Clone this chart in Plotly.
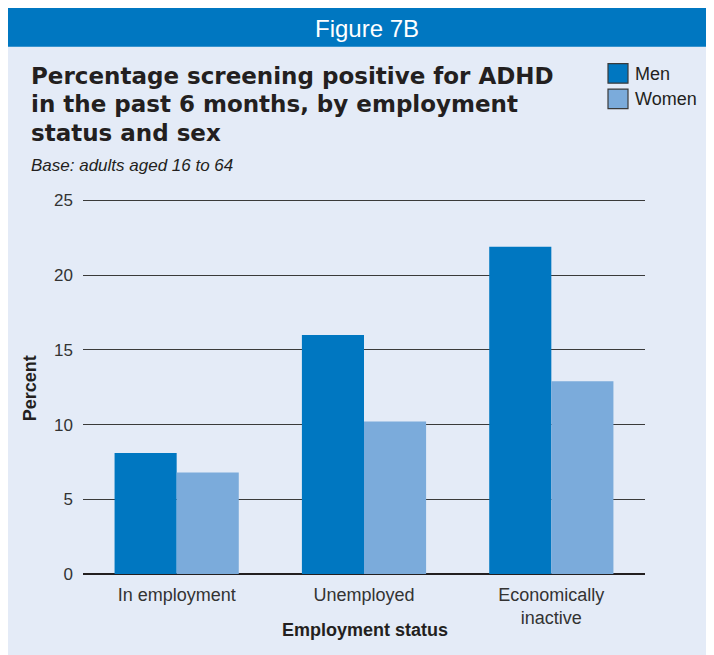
import plotly.graph_objects as go

categories = ["In employment", "Unemployed", "Economically<br>inactive"]
men = [8.1, 16.0, 21.9]
women = [6.8, 10.2, 12.9]
series_names = ["Men", "Women"]
y_ticks = [0, 5, 10, 15, 20, 25]
title_lines = ["Percentage screening positive for ADHD", "in the past 6 months, by employment", "status and sex"]

W, H = 714, 655
Y_MAX = 25.1
L, R, B = 75, 637, 566
T = B - (B - 192) * Y_MAX / 25
MEN_C = "#0077C1"
WOMEN_C = "#7BABDB"
PANEL = "#E4EBF7"
TEXT = "#231F20"
FONT = "Liberation Sans, Arial, sans-serif"
HEAVY = "DejaVu Sans, Liberation Sans, sans-serif"

def px(x):
    return (x - L) / (R - L)

def py(y):
    return (B - y) / (B - T)

fig = go.Figure()
fig.add_trace(go.Bar(x=categories, y=men, name=series_names[0], marker=dict(color=MEN_C, line=dict(width=0))))
fig.add_trace(go.Bar(x=categories, y=women, name=series_names[1], marker=dict(color=WOMEN_C, line=dict(width=0))))

shapes = [dict(type="rect", xref="paper", yref="paper", x0=px(-5), x1=px(W + 5), y0=py(38), y1=py(-5),
               fillcolor=MEN_C, line=dict(width=0), layer="below")]
for i, c in enumerate([MEN_C, WOMEN_C]):
    top = 55 + i * 25.5
    shapes.append(dict(type="rect", xref="paper", yref="paper", x0=px(600), x1=px(620), y0=py(top + 19.5), y1=py(top),
                       fillcolor=c, line=dict(color="#3a3a3a", width=1.2)))

annotations = [
    dict(text="Figure 7B", x=px(359), y=py(20), xref="paper", yref="paper", showarrow=False,
         font=dict(family=FONT, size=24, color="white"), xanchor="center", yanchor="middle"),
    dict(text="<i>Base: adults aged 16 to 64</i>", x=px(21), y=py(157), xref="paper", yref="paper",
         showarrow=False, font=dict(family=FONT, size=17, color=TEXT), xanchor="left", yanchor="middle"),
    dict(text="<b>Employment status</b>", x=px(357), y=py(622), xref="paper", yref="paper", showarrow=False,
         font=dict(family=FONT, size=18, color=TEXT), xanchor="center", yanchor="middle"),
    dict(text="<b>Percent</b>", x=px(22), y=py(380), xref="paper", yref="paper", showarrow=False, textangle=-90,
         font=dict(family=FONT, size=18, color=TEXT), xanchor="center", yanchor="middle"),
]
for i, line in enumerate(title_lines):
    annotations.append(dict(text="<b>" + line + "</b>", x=px(21), y=py(67 + i * 28.5), xref="paper", yref="paper",
                            showarrow=False, font=dict(family=HEAVY, size=23, color=TEXT),
                            xanchor="left", yanchor="middle"))
for i, n in enumerate(series_names):
    annotations.append(dict(text=n, x=px(625), y=py(65 + i * 25.5), xref="paper", yref="paper", showarrow=False,
                            font=dict(family=FONT, size=18, color=TEXT), xanchor="left", yanchor="middle"))

fig.update_layout(
    width=W, height=H,
    margin=dict(l=L, r=W - R, t=T, b=H - B, pad=0),
    paper_bgcolor=PANEL, plot_bgcolor="rgba(0,0,0,0)",
    barmode="group", bargap=0.337, bargroupgap=0,
    showlegend=False,
    shapes=shapes, annotations=annotations,
    font=dict(family=FONT, size=18, color=TEXT),
    xaxis=dict(showgrid=False, showline=False, ticks="", ticklabelstandoff=8,
               tickfont=dict(size=18, color="#333333")),
    yaxis=dict(range=[0, Y_MAX], tickvals=y_ticks, showgrid=True, gridcolor="#3a3a3a", gridwidth=1.2,
               zeroline=True, zerolinecolor=TEXT, zerolinewidth=1.5, showline=False, ticks="",
               ticklabelstandoff=9, tickfont=dict(size=17, color="#333333")),
)

fig.write_html("out.html")
